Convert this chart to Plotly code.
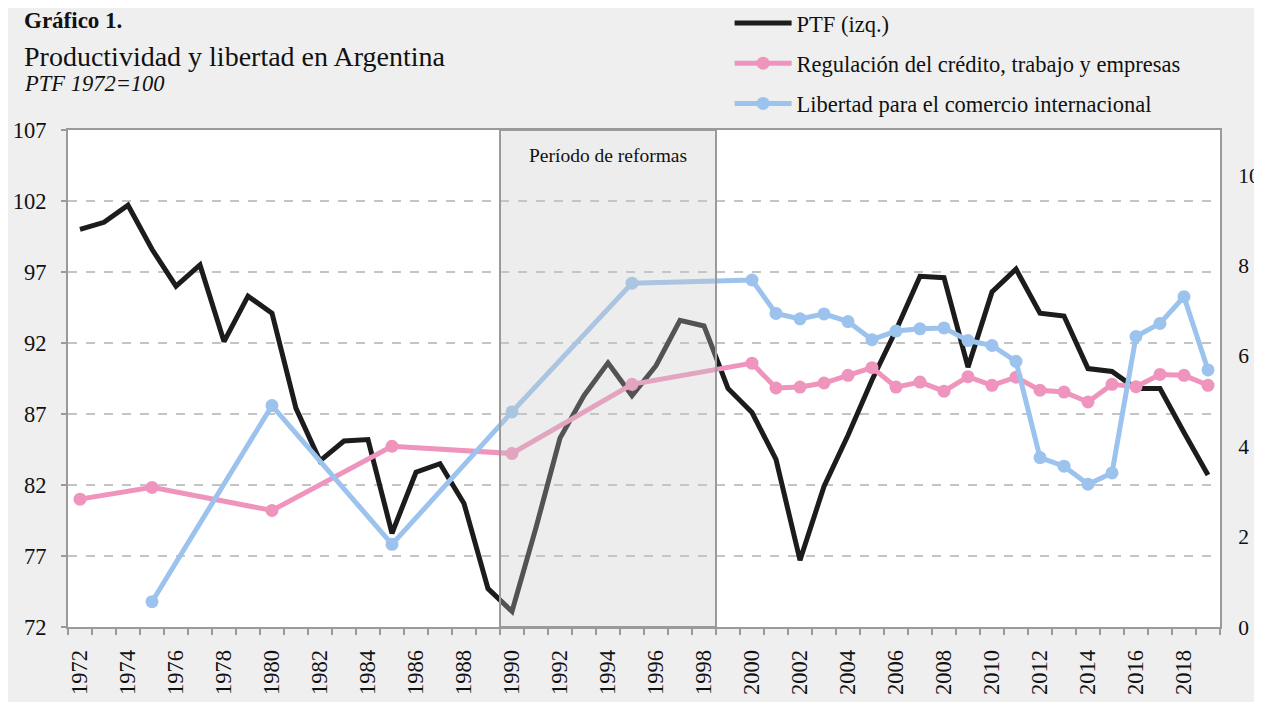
import plotly.graph_objects as go

# ---------------- data ----------------
ptf_years = list(range(1972, 2020))
ptf_values = [100.0, 100.5, 101.7, 98.6, 96.0, 97.5, 92.1, 95.3, 94.1, 87.4,
              83.7, 85.1, 85.2, 78.6, 82.9, 83.5, 80.7, 74.7, 73.1, 79.0,
              85.3, 88.3, 90.6, 88.3, 90.4, 93.6, 93.2, 88.8, 87.1, 83.8,
              76.7, 81.9, 85.5, 89.4, 92.9, 96.7, 96.6, 90.3, 95.6, 97.2,
              94.1, 93.9, 90.2, 90.0, 88.8, 88.8, 85.7, 82.7]

reg_years = [1972, 1975, 1980, 1985, 1990, 1995, 2000, 2001, 2002, 2003, 2004,
             2005, 2006, 2007, 2008, 2009, 2010, 2011, 2012, 2013, 2014, 2015,
             2016, 2017, 2018, 2019]
reg_values = [2.83, 3.09, 2.58, 4.00, 3.84, 5.37, 5.84, 5.29, 5.31, 5.40, 5.57,
              5.74, 5.31, 5.42, 5.22, 5.54, 5.35, 5.53, 5.24, 5.20, 4.98, 5.37,
              5.32, 5.59, 5.57, 5.35]

com_years = [1975, 1980, 1985, 1990, 1995, 2000, 2001, 2002, 2003, 2004,
             2005, 2006, 2007, 2008, 2009, 2010, 2011, 2012, 2013, 2014, 2015,
             2016, 2017, 2018, 2019]
com_values = [0.56, 4.90, 1.83, 4.76, 7.61, 7.68, 6.94, 6.82, 6.93, 6.76,
              6.36, 6.55, 6.60, 6.62, 6.34, 6.23, 5.88, 3.75, 3.56, 3.16, 3.41,
              6.43, 6.72, 7.31, 5.69]

x_tick_years = list(range(1972, 2019, 2))
left_ticks = [72, 77, 82, 87, 92, 97, 102, 107]
right_ticks = [0, 2, 4, 6, 8, 10]
reform_start, reform_end = 1990, 1998

# ---------------- style ----------------
SERIF = "Liberation Serif, Times New Roman, serif"
BLACK = "#1c1c1c"
PINK = "#ef94bc"
BLUE = "#9cc3ee"
AXIS = "#9a9a9a"
BG = "#efefef"
FS = 22.5

fig = go.Figure()

fig.add_trace(go.Scatter(
    x=ptf_years, y=ptf_values, name="PTF (izq.)", mode="lines",
    line=dict(color=BLACK, width=5), legendgroup="a", yaxis="y"))
fig.add_trace(go.Scatter(
    x=reg_years, y=reg_values, name="Regulación del crédito, trabajo y empresas",
    mode="lines+markers", line=dict(color=PINK, width=5),
    marker=dict(color=PINK, size=13), legendgroup="b", yaxis="y2"))
fig.add_trace(go.Scatter(
    x=com_years, y=com_values, name="Libertad para el comercio internacional",
    mode="lines+markers", line=dict(color=BLUE, width=5),
    marker=dict(color=BLUE, size=13), legendgroup="c", yaxis="y2"))

# reform period shading (drawn above the lines, semi-transparent)
fig.add_shape(type="rect", xref="x", yref="y",
              x0=reform_start - 0.5, x1=reform_end + 0.5, y0=72, y1=107,
              fillcolor="rgba(200,200,200,0.32)",
              line=dict(color=AXIS, width=2), layer="above")
fig.add_annotation(x=(reform_start + reform_end) / 2, y=105.2, xref="x", yref="y",
                   text="Período de reformas", showarrow=False,
                   font=dict(family=SERIF, size=19.5, color="#111"))

# titles
fig.add_annotation(x=-0.040, y=1.2213, xref="paper", yref="paper",
                   xanchor="left", yanchor="middle", showarrow=False,
                   text="<b>Gráfico 1.</b>",
                   font=dict(family=SERIF, size=23, color="#111"))
fig.add_annotation(x=-0.040, y=1.1469, xref="paper", yref="paper",
                   xanchor="left", yanchor="middle", showarrow=False,
                   text="Productividad y libertad en Argentina",
                   font=dict(family=SERIF, size=28, color="#111"))
fig.add_annotation(x=-0.040, y=1.0926, xref="paper", yref="paper",
                   xanchor="left", yanchor="middle", showarrow=False,
                   text="<i>PTF 1972=100</i>",
                   font=dict(family=SERIF, size=22.5, color="#111"))

fig.update_layout(
    width=1262, height=702,
    margin=dict(l=60, r=50, t=122, b=83, autoexpand=False),
    paper_bgcolor=BG, plot_bgcolor="white",
    font=dict(family=SERIF, size=FS, color="#111"),
    showlegend=True,
    legend=dict(x=0.5743, y=1.258, xanchor="left", yanchor="top",
                bgcolor="rgba(0,0,0,0)", tracegroupgap=8,
                font=dict(family=SERIF, size=FS, color="#111"),
                itemwidth=57),
    xaxis=dict(
        range=[1971.5, 2019.5],
        tickmode="array", tickvals=x_tick_years,
        ticktext=[str(v) for v in x_tick_years],
        tickangle=-90, ticks="", ticklabelstandoff=12,
        showline=True, linecolor=AXIS, linewidth=2, mirror=True,
        showgrid=False, zeroline=False,
        minor=dict(tickmode="array",
                   tickvals=[1971.5 + i for i in range(49)],
                   ticks="outside", ticklen=6, tickcolor=AXIS, tickwidth=2,
                   showgrid=False),
        tickfont=dict(family=SERIF, size=FS),
    ),
    yaxis=dict(
        range=[72, 107], tickmode="array", tickvals=left_ticks,
        showgrid=True, gridcolor="#c4c4c4", griddash="dash", gridwidth=1.5,
        showline=True, linecolor=AXIS, linewidth=2,
        ticks="outside", ticklen=5, tickcolor=AXIS, tickwidth=2,
        ticklabelstandoff=10, zeroline=False,
        tickfont=dict(family=SERIF, size=FS),
    ),
    yaxis2=dict(
        range=[0, 11], tickmode="array", tickvals=right_ticks,
        overlaying="y", side="right", showgrid=False, zeroline=False,
        showline=True, linecolor=AXIS, linewidth=2,
        ticks="", ticklabelstandoff=12,
        tickfont=dict(family=SERIF, size=21.5),
    ),
)

fig.write_html("out.html")
